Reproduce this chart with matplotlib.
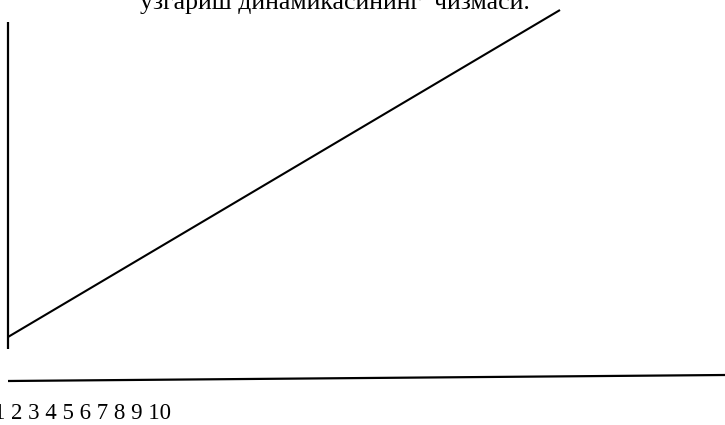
import matplotlib
matplotlib.use("Agg")
import matplotlib.pyplot as plt

# --- data (drawing in pixel-like units of the canvas) ---
title_text = "ўзгариш динамикасининг  чизмаси."
tick_labels = ["1", "2", "3", "4", "5", "6", "7", "8", "9", "10"]

# growth line (start, end)
growth_x = [8, 560]
growth_y = [337, 10]
# vertical axis
vaxis_x = [8, 8]
vaxis_y = [22, 349]
# horizontal axis
haxis_x = [8, 725]
haxis_y = [381, 375]

fig = plt.figure(figsize=(7.25, 4.25), dpi=100)
ax = fig.add_axes([0, 0, 1, 1])
ax.set_xlim(0, 725)
ax.set_ylim(425, 0)
ax.axis("off")

ax.plot(vaxis_x, vaxis_y, color="black", lw=1.6, solid_capstyle="butt")
ax.plot(growth_x, growth_y, color="black", lw=1.5, solid_capstyle="butt")
ax.plot(haxis_x, haxis_y, color="black", lw=1.6, solid_capstyle="butt")

ax.text(335, 9, title_text, ha="center", va="baseline",
        fontsize=18.5, family=["Liberation Serif", "DejaVu Serif"], color="black")
ax.text(-6, 419, " ".join(tick_labels), ha="left", va="baseline",
        fontsize=16.5, family=["Liberation Serif", "DejaVu Serif"], color="black")

fig.savefig("out.png", dpi=100)
